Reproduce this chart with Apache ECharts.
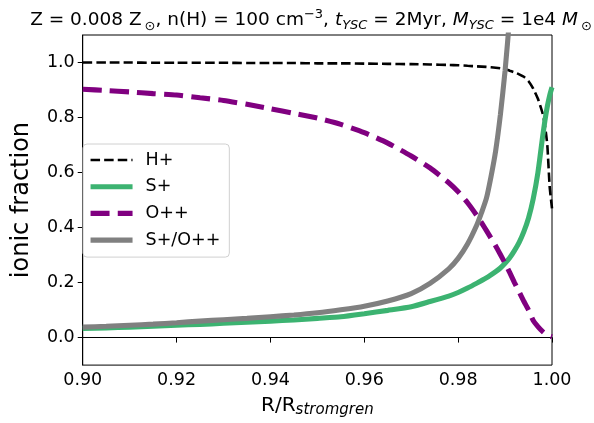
<!DOCTYPE html>
<html><head><meta charset="utf-8">
<script src="https://cdn.jsdelivr.net/npm/echarts@6/dist/echarts.min.js"></script>
<style>html,body{margin:0;padding:0;background:#fff}#c{width:594px;height:423px}</style>
</head><body><div id="c"></div>
<script>
// radius grid (R / R_stromgren)
const r = [0.900,0.905,0.910,0.915,0.920,0.925,0.930,0.935,0.940,0.945,
           0.950,0.955,0.960,0.965,0.970,0.974,0.978,0.980,0.982,0.984,
           0.986,0.988,0.989,0.990,0.991,0.992,0.993,0.994,0.995,0.996,
           0.997,0.998,0.9985,0.999,0.9995,1.000];
const hPlus = [1.000,1.000,1.000,0.999,0.999,0.999,0.999,0.998,0.998,0.998,
               0.997,0.997,0.996,0.995,0.994,0.993,0.991,0.990,0.988,0.986,
               0.984,0.981,0.979,0.976,0.970,0.964,0.957,0.948,0.932,0.905,
               0.868,0.815,0.770,0.700,0.550,0.470];
const sPlus = [0.033,0.035,0.038,0.041,0.045,0.048,0.052,0.056,0.060,0.064,
               0.070,0.076,0.087,0.099,0.112,0.131,0.151,0.164,0.180,0.198,
               0.217,0.240,0.253,0.270,0.290,0.316,0.346,0.385,0.435,0.505,
               0.600,0.730,0.790,0.840,0.880,0.910];
const oPlusPlus = [0.903,0.898,0.893,0.887,0.882,0.872,0.862,0.848,0.832,0.815,
                   0.798,0.775,0.745,0.707,0.660,0.617,0.563,0.530,0.490,0.443,
                   0.390,0.333,0.302,0.270,0.236,0.200,0.166,0.132,0.100,0.062,
                   0.040,0.022,0.015,0.010,0.006,0.003];
// ratio curve (leaves the top of the plot near 0.991)
const rRatio = [0.900,0.905,0.910,0.915,0.920,0.925,0.930,0.935,0.940,0.945,
                0.950,0.955,0.960,0.965,0.970,0.974,0.978,0.980,0.982,0.984,
                0.985,0.986,0.987,0.988,0.989,0.990,0.991,0.992];
const ratio = [0.038,0.041,0.045,0.049,0.054,0.060,0.065,0.070,0.076,0.082,
               0.090,0.101,0.114,0.133,0.160,0.197,0.250,0.288,0.340,0.410,
               0.455,0.505,0.585,0.680,0.810,0.970,1.170,1.420];
const xTicks = [0.90,0.92,0.94,0.96,0.98,1.00];
const yTicks = [0.0,0.2,0.4,0.6,0.8,1.0];
const seriesNames = ['H+','S+','O++','S+/O++'];

const zip = (xs, ys) => xs.map((x, i) => [x, ys[i]]);
const FONT = 'DejaVu Sans';

const chart = echarts.init(document.getElementById('c'), null, {renderer: 'canvas'});
chart.setOption({
  animation: false,
  backgroundColor: '#fff',
  textStyle: {fontFamily: FONT},
  title: {
    text: 'Z = 0.008 Z{s|⊙}, n(H) = 100 cm{p|−3}, {i|t}{is|YSC} = 2Myr, {i|M}{is|YSC} = 1e4 {i|M}{s|⊙}',
    left: 311, top: 8, padding: 0, textAlign: 'center',
    textStyle: {
      fontFamily: FONT, fontSize: 18.5, fontWeight: 'normal', color: '#000', lineHeight: 25,
      rich: {
        s: {fontFamily: FONT, fontSize: 13, lineHeight: 13, padding: [12, 0, 0, 3], color: '#000'},
        p: {fontFamily: FONT, fontSize: 13, lineHeight: 13, padding: [0, 0, 12, 0], color: '#000'},
        i: {fontFamily: FONT, fontSize: 18.5, lineHeight: 25, fontStyle: 'italic', color: '#000'},
        is: {fontFamily: FONT, fontSize: 13, lineHeight: 13, padding: [11, 0, 0, 0], fontStyle: 'italic', color: '#000'}
      }
    }
  },
  grid: {left: 74, right: 42, top: 35, bottom: 55, show: true, borderColor: '#000', borderWidth: 1, backgroundColor: 'transparent'},
  legend: {
    data: seriesNames,
    orient: 'vertical', left: 83, top: 144,
    padding: [7, 9, 8, 5],
    itemWidth: 42, itemHeight: 14, itemGap: 8.7,
    backgroundColor: 'rgba(255,255,255,0.8)',
    borderColor: '#d0d0d0', borderWidth: 1, borderRadius: 4,
    itemStyle: {opacity: 0},
    lineStyle: {width: 'inherit'},
    textStyle: {fontFamily: FONT, fontSize: 17.5, color: '#000', lineHeight: 18, padding: [0, 0, 0, 8]}
  },
  xAxis: {
    type: 'value', min: 0.9, max: 1.0,
    name: 'R/R{s|stromgren}', nameLocation: 'middle', nameGap: 21,
    nameTextStyle: {
      fontFamily: FONT, fontSize: 20, lineHeight: 24, color: '#000',
      rich: {s: {fontFamily: FONT, fontSize: 15, lineHeight: 15, fontStyle: 'italic', padding: [9, 0, 0, 0], color: '#000'}}
    },
    axisLine: {show: true, lineStyle: {color: '#000', width: 1}},
    axisTick: {show: true, inside: false, length: 5, customValues: xTicks, lineStyle: {color: '#000', width: 1}},
    axisLabel: {customValues: xTicks, formatter: v => v.toFixed(2), fontFamily: FONT, fontSize: 17.5, color: '#000', margin: 6},
    splitLine: {show: false}
  },
  yAxis: {
    type: 'value', min: -0.1, max: 1.1,
    name: 'ionic fraction', nameLocation: 'middle', nameGap: 42, nameRotate: 90,
    nameTextStyle: {fontFamily: FONT, fontSize: 24, lineHeight: 28, color: '#000'},
    axisLine: {show: true, lineStyle: {color: '#000', width: 1}},
    axisTick: {show: true, inside: false, length: 5, customValues: yTicks, lineStyle: {color: '#000', width: 1}},
    axisLabel: {customValues: yTicks, formatter: v => v.toFixed(1), fontFamily: FONT, fontSize: 17.5, color: '#000', margin: 8},
    splitLine: {show: false}
  },
  series: [
    {name: 'H+', type: 'line', data: zip(r, hPlus), symbol: 'none', clip: true, smooth: 0.2,
     lineStyle: {color: '#000000', width: 2.6, type: [9.5, 4.1]}, itemStyle: {color: '#000000'}},
    {name: 'S+', type: 'line', data: zip(r, sPlus), symbol: 'none', clip: true, smooth: 0.2,
     lineStyle: {color: '#3cb371', width: 5.1}, itemStyle: {color: '#3cb371'}},
    {name: 'O++', type: 'line', data: zip(r, oPlusPlus), symbol: 'none', clip: true, smooth: 0.2,
     lineStyle: {color: '#800080', width: 5.1, type: [19, 8.2]}, itemStyle: {color: '#800080'}},
    {name: 'S+/O++', type: 'line', data: zip(rRatio, ratio), symbol: 'none', clip: true, smooth: 0.2,
     lineStyle: {color: '#808080', width: 5.1}, itemStyle: {color: '#808080'}}
  ]
});
</script></body></html>
